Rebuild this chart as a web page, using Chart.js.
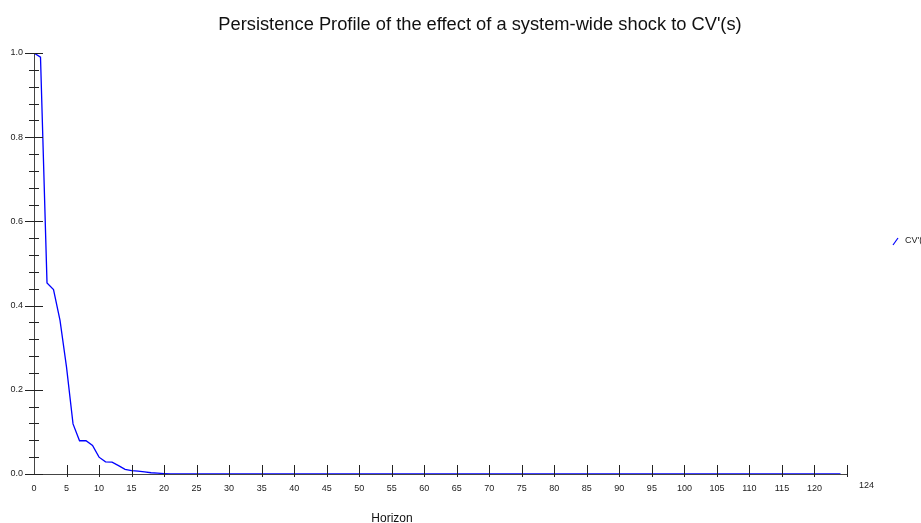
<!DOCTYPE html>
<html>
<head>
<meta charset="utf-8">
<script src="https://cdn.jsdelivr.net/npm/chart.js@4.4.0/dist/chart.umd.min.js"></script>
<style>
    html, body { margin: 0; padding: 0; background: #fff; }
    #wrap { width: 921px; height: 523px; position: relative; }
</style>
</head>
<body>
<div id="wrap"><canvas id="ppChart"></canvas></div>
<script>
// Data
const horizon = [];
for (let h = 0; h <= 124; h++) horizon.push(h);

const cvHead = [1.0, 0.99, 0.454, 0.438, 0.365, 0.254, 0.119, 0.079, 0.079, 0.068,
    0.040, 0.029, 0.028, 0.020, 0.011, 0.008, 0.007, 0.005, 0.003, 0.002, 0.001];
const cvValues = horizon.map((h, i) => (i < cvHead.length ? cvHead[i] : 0));

const xTickValues = [0, 5, 10, 15, 20, 25, 30, 35, 40, 45, 50, 55, 60, 65, 70, 75, 80, 85, 90, 95, 100, 105, 110, 115, 120];
const yMajorTicks = [0, 0.2, 0.4, 0.6, 0.8, 1.0];
const yMinorStep = 0.04;

const chartTitle = "Persistence Profile of the effect of a system-wide shock to CV'(s)";
const xTitle = 'Horizon';
const seriesLabel = "CV'(s)";
const lastLabel = '124';

const FONT = '"Liberation Sans", Arial, Helvetica, sans-serif';

// Ticks, titles and legend drawn on top of the scales
const decorations = {
    id: 'decorations',
    afterDraw(chart) {
        const { ctx, scales } = chart;
        const x = scales.x, y = scales.y;
        const x0 = x.getPixelForValue(0), y0 = y.getPixelForValue(0);
        ctx.save();
        ctx.strokeStyle = '#222';
        ctx.lineWidth = 1;

        // y minor ticks
        for (let k = 1; k < 25; k++) {
            const py = Math.round(y.getPixelForValue(k * yMinorStep)) + 0.5;
            ctx.beginPath(); ctx.moveTo(x0 - 5, py); ctx.lineTo(x0 + 5, py); ctx.stroke();
        }
        // y major ticks
        yMajorTicks.forEach(v => {
            const py = Math.round(y.getPixelForValue(v)) + 0.5;
            ctx.beginPath(); ctx.moveTo(x0 - 9, py); ctx.lineTo(x0 + 9, py); ctx.stroke();
        });
        // x ticks
        xTickValues.concat([125]).forEach(v => {
            if (v === 0) return;
            const px = Math.round(x.getPixelForValue(v)) + 0.5;
            ctx.beginPath(); ctx.moveTo(px, y0 - 9); ctx.lineTo(px, y0 + 3); ctx.stroke();
        });

        ctx.fillStyle = '#222';
        ctx.font = '9px ' + FONT;
        ctx.textAlign = 'left';
        ctx.textBaseline = 'middle';
        ctx.fillText(lastLabel, x.getPixelForValue(125) + 12, y0 + 12);

        // titles
        ctx.fillStyle = '#111';
        ctx.textAlign = 'center';
        ctx.textBaseline = 'alphabetic';
        ctx.font = '18.3px ' + FONT;
        ctx.fillText(chartTitle, 480, 30);
        ctx.font = '12px ' + FONT;
        ctx.fillText(xTitle, 392, 522);

        // legend
        const ds = chart.data.datasets[0];
        ctx.strokeStyle = ds.borderColor;
        ctx.lineWidth = 1.2;
        ctx.beginPath(); ctx.moveTo(893, 245); ctx.lineTo(898, 238); ctx.stroke();
        ctx.fillStyle = '#222';
        ctx.font = '9px ' + FONT;
        ctx.textAlign = 'left';
        ctx.textBaseline = 'middle';
        ctx.fillText(ds.label, 905, 241);
        ctx.restore();
    }
};

new Chart(document.getElementById('ppChart'), {
    type: 'line',
    data: {
        datasets: [{
            label: seriesLabel,
            data: horizon.map((h, i) => ({ x: h, y: cvValues[i] })),
            borderColor: '#0000ff',
            borderWidth: 1.3,
            pointRadius: 0,
            tension: 0,
            fill: false
        }]
    },
    options: {
        responsive: true,
        maintainAspectRatio: false,
        animation: false,
        layout: { padding: { top: 53, right: 74, left: 0, bottom: 0 } },
        plugins: {
            legend: { display: false },
            title: { display: false },
            tooltip: { enabled: false }
        },
        scales: {
            x: {
                type: 'linear',
                min: 0,
                max: 125,
                afterFit: s => { s.height = 49; },
                afterBuildTicks: s => { s.ticks = xTickValues.map(v => ({ value: v })); },
                grid: { display: false, drawTicks: false },
                border: { display: true, color: '#444', width: 1 },
                ticks: {
                    color: '#222',
                    font: { family: FONT, size: 9 },
                    padding: 9,
                    maxRotation: 0,
                    autoSkip: false
                }
            },
            y: {
                min: 0,
                max: 1,
                afterFit: s => { s.width = 34; },
                afterBuildTicks: s => { s.ticks = yMajorTicks.map(v => ({ value: v })); },
                grid: { display: false, drawTicks: false },
                border: { display: true, color: '#444', width: 1 },
                ticks: {
                    color: '#222',
                    font: { family: FONT, size: 9 },
                    padding: 11,
                    callback: v => Number(v).toFixed(1)
                }
            }
        }
    },
    plugins: [decorations]
});
</script>
</body>
</html>
